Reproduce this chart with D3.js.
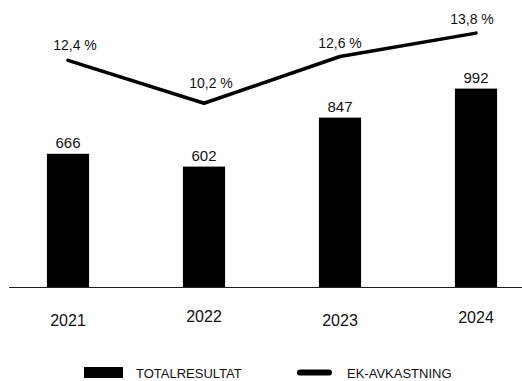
<!DOCTYPE html>
<html>
<head>
<meta charset="utf-8">
<script src="https://cdn.jsdelivr.net/npm/d3@7"></script>
<style>
  html, body { margin: 0; padding: 0; background: #fff; }
  svg { display: block; font-family: "Liberation Sans", Arial, sans-serif; }
</style>
</head>
<body>
<svg id="chart" width="522" height="381"></svg>
<script>
const years = ["2021", "2022", "2023", "2024"];
const totalresultat = [666, 602, 847, 992];
const ekAvkastning = [12.4, 10.2, 12.6, 13.8];
const ekLabels = ["12,4 %", "10,2 %", "12,6 %", "13,8 %"];
const legendLabels = ["TOTALRESULTAT", "EK-AVKASTNING"];

const svg = d3.select("#chart");

const x = d3.scaleBand().domain(years).range([0, 544]).paddingInner(0.69).paddingOuter(0.345);
const yBar = d3.scaleLinear().domain([0, 1435]).range([287, 0]);
const yLine = d3.scaleLinear().domain([0, 15.5]).range([302, 0]);
const cx = d => x(d) + x.bandwidth() / 2;

// bars
svg.append("g").selectAll("rect").data(years).join("rect")
  .attr("x", d => x(d))
  .attr("y", (d, i) => yBar(totalresultat[i]))
  .attr("width", x.bandwidth())
  .attr("height", (d, i) => yBar(0) - yBar(totalresultat[i]))
  .attr("fill", "#000");

// bar value labels
svg.append("g").selectAll("text").data(years).join("text")
  .attr("x", d => cx(d))
  .attr("y", (d, i) => yBar(totalresultat[i]) - 6)
  .attr("text-anchor", "middle")
  .attr("font-size", 15)
  .attr("fill", "#111")
  .text((d, i) => totalresultat[i]);

// baseline axis
svg.append("line")
  .attr("x1", 9).attr("x2", 522)
  .attr("y1", yBar(0) + 0.5).attr("y2", yBar(0) + 0.5)
  .attr("stroke", "#222").attr("stroke-width", 1);

// year labels
const yearDy = [0, -4, 0, -3];
svg.append("g").selectAll("text").data(years).join("text")
  .attr("x", d => cx(d))
  .attr("y", (d, i) => 326 + yearDy[i])
  .attr("text-anchor", "middle")
  .attr("font-size", 16)
  .attr("fill", "#111")
  .text(d => d);

// line
const line = d3.line().x((d, i) => cx(years[i])).y(d => yLine(d));
svg.append("path")
  .datum(ekAvkastning)
  .attr("d", line)
  .attr("fill", "none")
  .attr("stroke", "#000")
  .attr("stroke-width", 3.5)
  .attr("stroke-linejoin", "round")
  .attr("stroke-linecap", "round");

// line labels
const lblDx = [7, 7, 0, -4];
const lblDy = [-10, -15, -9, -9];
svg.append("g").selectAll("text").data(years).join("text")
  .attr("x", (d, i) => cx(d) + lblDx[i])
  .attr("y", (d, i) => yLine(ekAvkastning[i]) + lblDy[i])
  .attr("text-anchor", "middle")
  .attr("font-size", 14)
  .attr("fill", "#111")
  .text((d, i) => ekLabels[i]);

// legend
const leg = svg.append("g");
leg.append("rect").attr("x", 84).attr("y", 367).attr("width", 39).attr("height", 11).attr("fill", "#000");
leg.append("text").attr("x", 136).attr("y", 378).attr("font-size", 13).attr("fill", "#111").text(legendLabels[0]);
leg.append("line").attr("x1", 300).attr("x2", 329).attr("y1", 372.5).attr("y2", 372.5)
  .attr("stroke", "#000").attr("stroke-width", 6).attr("stroke-linecap", "round");
leg.append("text").attr("x", 347).attr("y", 378).attr("font-size", 13).attr("fill", "#111").text(legendLabels[1]);
</script>
</body>
</html>
